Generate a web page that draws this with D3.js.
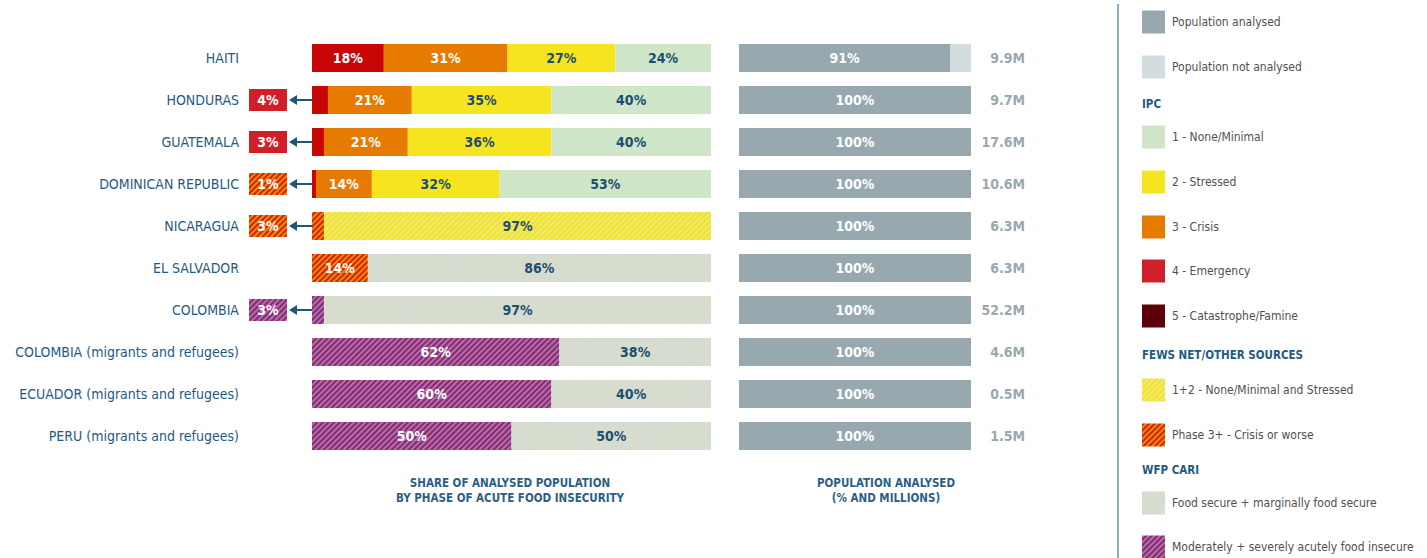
<!DOCTYPE html>
<html>
<head>
<meta charset="utf-8">
<script src="https://cdn.jsdelivr.net/npm/d3@7"></script>
<style>
  body { margin: 0; background: #fff; }
  svg { display: block; }
  text { font-family: "DejaVu Sans Condensed", "Liberation Sans Narrow", "Roboto", sans-serif; }
</style>
</head>
<body>
<svg id="chart" width="1427" height="558"></svg>
<script>
// ---- data ----
var countries = ["HAITI", "HONDURAS", "GUATEMALA", "DOMINICAN REPUBLIC", "NICARAGUA",
  "EL SALVADOR", "COLOMBIA", "COLOMBIA (migrants and refugees)",
  "ECUADOR (migrants and refugees)", "PERU (migrants and refugees)"];

var phase5       = [0, 0, 0, 0, 0, 0, 0, 0, 0, 0];
var phase4       = [18, 4, 3, 1, 0, 0, 0, 0, 0, 0];
var fews3        = [0, 0, 0, 0, 3, 14, 0, 0, 0, 0];
var cariInsecure = [0, 0, 0, 0, 0, 0, 3, 62, 60, 50];
var phase3       = [31, 21, 21, 14, 0, 0, 0, 0, 0, 0];
var phase2       = [27, 35, 36, 32, 0, 0, 0, 0, 0, 0];
var fews12       = [0, 0, 0, 0, 97, 0, 0, 0, 0, 0];
var phase1       = [24, 40, 40, 53, 0, 0, 0, 0, 0, 0];
var cariSecure   = [0, 0, 0, 0, 0, 86, 97, 38, 40, 50];

// small shares called out to the left of the bar (category shown by the box)
var calloutKey = [null, "phase4", "phase4", "fews3", "fews3", null, "cariInsecure", null, null, null];

var analysedPct = [91, 100, 100, 100, 100, 100, 100, 100, 100, 100];
var analysedMillions = ["9.9M", "9.7M", "17.6M", "10.6M", "6.3M", "6.3M", "52.2M", "4.6M", "0.5M", "1.5M"];

var legendItems = [
  {type: "item", key: "analysed", label: "Population analysed"},
  {type: "item", key: "notAnalysed", label: "Population not analysed"},
  {type: "head", label: "IPC"},
  {type: "item", key: "phase1", label: "1 - None/Minimal"},
  {type: "item", key: "phase2", label: "2 - Stressed"},
  {type: "item", key: "phase3", label: "3 - Crisis"},
  {type: "item", key: "phase4L", label: "4 - Emergency"},
  {type: "item", key: "phase5", label: "5 - Catastrophe/Famine"},
  {type: "head", label: "FEWS NET/OTHER SOURCES"},
  {type: "item", key: "fews12", label: "1+2 - None/Minimal and Stressed"},
  {type: "item", key: "fews3", label: "Phase 3+ - Crisis or worse"},
  {type: "head", label: "WFP CARI"},
  {type: "item", key: "cariSecure", label: "Food secure + marginally food secure"},
  {type: "item", key: "cariInsecure", label: "Moderately + severely acutely food insecure"}
];
var legendY = [22, 67, 104, 137, 182, 227, 271, 316, 355, 390, 435, 470, 503, 547];

// ---- styles ----
var keys = ["phase5", "phase4", "fews3", "cariInsecure", "phase3", "phase2", "fews12", "phase1", "cariSecure"];
var series = {phase5: phase5, phase4: phase4, fews3: fews3, cariInsecure: cariInsecure, phase3: phase3,
  phase2: phase2, fews12: fews12, phase1: phase1, cariSecure: cariSecure};

var fills = {
  phase5: "#5c0009", phase4: "#c90606", phase4L: "#cf1f28", phase3: "#e77a00", phase2: "#f6e51e", phase1: "#cfe6c9",
  analysed: "#97a9ae", notAnalysed: "#d3dde0",
  fews3: "url(#hFews3)", fews12: "url(#hFews12)", cariSecure: "url(#hCariSecure)", cariInsecure: "url(#hCariInsecure)"
};
var darkText = {phase2: 1, phase1: 1, fews12: 1, cariSecure: 1};
var blue = "#1f5a80";

var svg = d3.select("#chart");
var defs = svg.append("defs");
function hatch(id, base, stripe, w) {
  var p = defs.append("pattern").attr("id", id).attr("patternUnits", "userSpaceOnUse")
    .attr("width", 4).attr("height", 4).attr("patternTransform", "rotate(45)");
  p.append("rect").attr("width", 4).attr("height", 4).attr("fill", base);
  p.append("rect").attr("width", w).attr("height", 4).attr("fill", stripe);
}
hatch("hFews3", "#f08a00", "#d2210e", 2);
hatch("hFews12", "#f4e422", "#e8eba8", 1.3);
hatch("hCariSecure", "#dbd8d2", "#d0e2cb", 1.8);
hatch("hCariInsecure", "#872878", "#b878a8", 1.8);

// scales
var y = d3.scaleBand().domain(countries).range([37, 457]).paddingInner(1 / 3).paddingOuter(1 / 6);
var x = d3.scaleLinear().domain([0, 100]).range([312, 711]);
var x2 = d3.scaleLinear().domain([0, 100]).range([739, 971]);
function cy(c) { return y(c) + y.bandwidth() / 2; }

// stacked table
var table = countries.map(function (c, i) {
  var row = {country: c, i: i};
  keys.forEach(function (k) { row[k] = series[k][i]; });
  return row;
});
var stacked = d3.stack().keys(keys)(table);

// country labels
svg.append("g").selectAll("text").data(countries).enter().append("text")
  .attr("x", 239).attr("y", cy)
  .attr("dy", "0.36em").attr("text-anchor", "end")
  .attr("fill", blue).style("font-size", "14px")
  .text(function (d) { return d; });

// share bars
var layers = svg.append("g").selectAll("g").data(stacked).enter().append("g");
layers.selectAll("rect").data(function (s) { return s.map(function (d) { d.key = s.key; return d; }); })
  .enter().filter(function (d) { return d[1] - d[0] > 0; }).append("rect")
  .attr("x", function (d) { return x(d[0]); })
  .attr("width", function (d) { return x(d[1]) - x(d[0]); })
  .attr("y", function (d) { return y(d.data.country); })
  .attr("height", y.bandwidth())
  .attr("fill", function (d) { return fills[d.key]; });

layers.selectAll("text").data(function (s) { return s.map(function (d) { d.key = s.key; return d; }); })
  .enter().filter(function (d) { return d[1] - d[0] >= 5; }).append("text")
  .attr("x", function (d) { return (x(d[0]) + x(d[1])) / 2; })
  .attr("y", function (d) { return cy(d.data.country); })
  .attr("dy", "0.36em").attr("text-anchor", "middle")
  .attr("fill", function (d) { return darkText[d.key] ? "#1d4e72" : "#fff"; })
  .style("font-size", "14px").style("font-weight", "bold")
  .text(function (d) { return (d[1] - d[0]) + "%"; });

// callouts for tiny shares (value = leftmost segment of the bar)
function firstShare(d) {
  for (var k = 0; k < keys.length; k++) { if (d[keys[k]] > 0) return d[keys[k]]; }
  return 0;
}
var callouts = svg.append("g").selectAll("g")
  .data(table.filter(function (d) { return calloutKey[d.i]; })).enter().append("g");
callouts.append("rect")
  .attr("x", 249).attr("width", 38)
  .attr("y", function (d) { return cy(d.country) - 11; })
  .attr("height", 22)
  .attr("fill", function (d) { return fills[calloutKey[d.i] === "phase4" ? "phase4L" : calloutKey[d.i]]; });
callouts.append("text")
  .attr("x", 268).attr("y", function (d) { return cy(d.country); })
  .attr("dy", "0.37em").attr("text-anchor", "middle").attr("fill", "#fff")
  .style("font-size", "14px").style("font-weight", "bold")
  .text(function (d) { return firstShare(d) + "%"; });
callouts.append("line")
  .attr("x1", x(0)).attr("x2", 294)
  .attr("y1", function (d) { return cy(d.country); })
  .attr("y2", function (d) { return cy(d.country); })
  .attr("stroke", "#1d5878").attr("stroke-width", 2);
callouts.append("path")
  .attr("d", function (d) {
    var c = cy(d.country);
    return "M289," + c + "L297," + (c - 5) + "L297," + (c + 5) + "Z";
  })
  .attr("fill", "#1d5878");

// population analysed bars
var pop = svg.append("g").selectAll("g").data(countries).enter().append("g");
pop.append("rect")
  .attr("x", x2(0)).attr("width", x2(100) - x2(0))
  .attr("y", function (d) { return y(d); }).attr("height", y.bandwidth())
  .attr("fill", fills.notAnalysed);
pop.append("rect")
  .attr("x", x2(0)).attr("width", function (d, i) { return x2(analysedPct[i]) - x2(0); })
  .attr("y", function (d) { return y(d); }).attr("height", y.bandwidth())
  .attr("fill", fills.analysed);
pop.append("text")
  .attr("x", function (d, i) { return (x2(0) + x2(analysedPct[i])) / 2; })
  .attr("y", cy)
  .attr("dy", "0.36em").attr("text-anchor", "middle").attr("fill", "#fff")
  .style("font-size", "14px").style("font-weight", "bold")
  .text(function (d, i) { return analysedPct[i] + "%"; });
pop.append("text")
  .attr("x", 1025).attr("y", cy)
  .attr("dy", "0.36em").attr("text-anchor", "end").attr("fill", "#9aa8ae")
  .style("font-size", "14px").style("font-weight", "bold")
  .text(function (d, i) { return analysedMillions[i]; });

// axis titles
function title(cx, lines) {
  var t = svg.append("text").attr("text-anchor", "middle").attr("fill", "#2c5e82")
    .style("font-size", "11.5px").style("font-weight", "bold");
  lines.forEach(function (l, i) {
    t.append("tspan").attr("x", cx).attr("y", 487 + i * 15).text(l);
  });
}
title(510, ["SHARE OF ANALYSED POPULATION", "BY PHASE OF ACUTE FOOD INSECURITY"]);
title(886, ["POPULATION ANALYSED", "(% AND MILLIONS)"]);

// legend
svg.append("line").attr("x1", 1118).attr("x2", 1118).attr("y1", 4).attr("y2", 558)
  .attr("stroke", "#8eafc3").attr("stroke-width", 2);
var lg = svg.append("g").selectAll("g").data(legendItems).enter().append("g")
  .attr("transform", function (d, i) { return "translate(1142," + legendY[i] + ")"; });
lg.filter(function (d) { return d.type === "item"; }).append("rect")
  .attr("y", -11.5).attr("width", 23).attr("height", 23)
  .attr("fill", function (d) { return fills[d.key]; });
lg.append("text")
  .attr("x", function (d) { return d.type === "item" ? 30 : 0; })
  .attr("dy", "0.35em")
  .attr("fill", function (d) { return d.type === "item" ? "#505050" : blue; })
  .style("font-size", function (d) { return d.type === "item" ? "12px" : "11.5px"; })
  .style("font-weight", function (d) { return d.type === "item" ? "normal" : "bold"; })
  .text(function (d) { return d.label; });
</script>
</body>
</html>
